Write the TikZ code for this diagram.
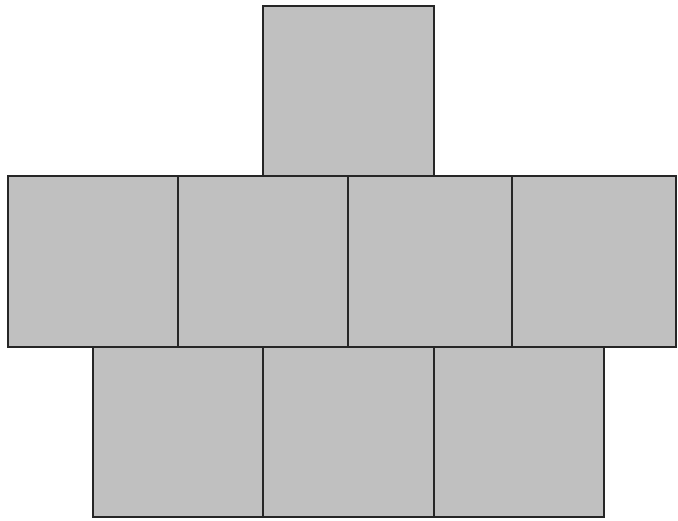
\documentclass[tikz,border=0pt]{standalone}
\usetikzlibrary{positioning}
\definecolor{sedá}{RGB}{192,192,192}
\tikzset{
  ctv/.style={rectangle,draw=black!85,fill=sedá,line width=1.8pt,inner sep=0pt,minimum width=170pt,minimum height=170pt},
  uzky/.style={ctv,minimum width=164pt},
}
\begin{document}
\begin{tikzpicture}[x=1pt,y=-1pt]
  \useasboundingbox (0,0) rectangle (678,520);
  % horni ctverec
  \node[ctv,minimum width=171pt] (h) at (348.5,91) {};
  % prostredni rada
  \node[ctv,minimum height=171pt] (s1) at (93,261.5) {};
  \node[ctv,minimum height=171pt] (s2) at (263,261.5) {};
  \node[uzky,minimum height=171pt] (s3) at (430,261.5) {};
  \node[uzky,minimum height=171pt] (s4) at (594,261.5) {};
  % dolni rada
  \node[ctv] (d1) at (178,432) {};
  \node[ctv,minimum width=171pt] (d2) at (348.5,432) {};
  \node[ctv] (d3) at (519,432) {};
\end{tikzpicture}
\end{document}
